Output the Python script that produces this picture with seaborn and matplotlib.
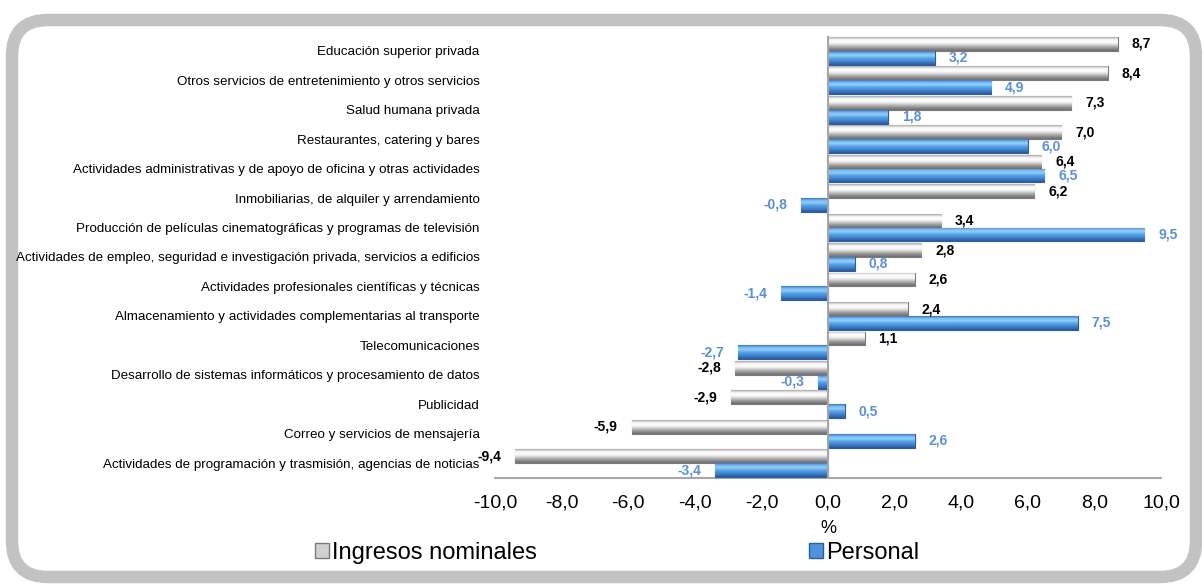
import matplotlib
matplotlib.use("Agg")
import matplotlib.pyplot as plt
import matplotlib.patches as mpatches
from matplotlib.colors import LinearSegmentedColormap
from matplotlib.ticker import FuncFormatter
import numpy as np
import pandas as pd
import seaborn as sns

SECTORES = [
    "Educación superior privada",
    "Otros servicios de entretenimiento y otros servicios",
    "Salud humana privada",
    "Restaurantes, catering y bares",
    "Actividades administrativas y de apoyo de oficina y otras actividades",
    "Inmobiliarias, de alquiler y arrendamiento",
    "Producción de películas cinematográficas y programas de televisión",
    "Actividades de empleo, seguridad e investigación privada, servicios a edificios",
    "Actividades profesionales científicas y técnicas",
    "Almacenamiento y actividades complementarias al transporte",
    "Telecomunicaciones",
    "Desarrollo de sistemas informáticos y procesamiento de datos",
    "Publicidad",
    "Correo y servicios de mensajería",
    "Actividades de programación y trasmisión, agencias de noticias",
]
INGRESOS = [8.7, 8.4, 7.3, 7.0, 6.4, 6.2, 3.4, 2.8, 2.6, 2.4, 1.1, -2.8, -2.9, -5.9, -9.4]
PERSONAL = [3.2, 4.9, 1.8, 6.0, 6.5, -0.8, 9.5, 0.8, -1.4, 7.5, -2.7, -0.3, 0.5, 2.6, -3.4]
SERIES = ["Ingresos nominales", "Personal"]
XTICKS = [-10, -8, -6, -4, -2, 0, 2, 4, 6, 8, 10]

GRAY = "#c4c4c4"
GRAY_EDGE = "#7a7a7a"
BLUE = "#4f93dc"
BLUE_EDGE = "#2b5c9c"
BLUE_TXT = "#5b8fd6"

# bevel-like vertical shading, top -> bottom
GRAY_SHADE = ["#a8a8a8", "#f4f4f4", "#ffffff", "#e6e6e6", "#b4b4b4", "#8c8c8c", "#6e6e6e"]
BLUE_SHADE = ["#3a74c0", "#7dbcf0", "#8fd0fa", "#5aa6ea", "#4a8fd8", "#3a74c0", "#2a5a9a"]


def coma(v):
    return f"{v:.1f}".replace(".", ",")


def shade_bars(ax, container, colors):
    cmap = LinearSegmentedColormap.from_list("bevel", colors)
    grad = np.linspace(0, 1, 64).reshape(-1, 1)
    for p in container:
        bb = p.get_bbox()
        x0, x1 = sorted([bb.x0, bb.x1])
        y0, y1 = sorted([bb.y0, bb.y1])
        # axis is inverted: y0 (smaller) is the top of the bar on screen
        im = ax.imshow(grad, cmap=cmap, aspect="auto", interpolation="bilinear",
                       extent=(x0, x1, y1, y0), origin="upper", zorder=3.5)
        im.set_clip_path(p)


def main():
    sns.set_theme(style="white")
    plt.rcParams["font.family"] = ["Liberation Sans", "DejaVu Sans"]
    plt.rcParams["text.color"] = "black"
    plt.rcParams["axes.labelcolor"] = "black"

    df = pd.DataFrame({
        "sector": SECTORES * 2,
        "valor": INGRESOS + PERSONAL,
        "serie": [SERIES[0]] * len(SECTORES) + [SERIES[1]] * len(SECTORES),
    })

    fig = plt.figure(figsize=(12.02, 5.86), dpi=100)
    fig.patch.set_facecolor("white")

    # rounded gray frame behind everything
    frame = mpatches.FancyBboxPatch(
        (12 / 1202, 9 / 586), 1184 / 1202, 557 / 586,
        boxstyle="round,pad=0,rounding_size=0.03",
        transform=fig.transFigure, facecolor="white",
        edgecolor="#c2c2c2", linewidth=9, zorder=-10, mutation_aspect=1202 / 586)
    fig.patches.append(frame)

    ax = fig.add_axes([495 / 1202, 1 - 478 / 586, (1161 - 495) / 1202, (478 - 36) / 586])
    ax.set_zorder(2)
    ax.set_facecolor("none")

    sns.barplot(data=df, y="sector", x="valor", hue="serie", orient="h",
                hue_order=SERIES, palette=[GRAY, BLUE], width=0.94,
                saturation=1, legend=False, ax=ax, zorder=3)
    ylim = ax.get_ylim()
    ax.set_xlim(-10, 10)
    ax.set_ylim(ylim)
    ax.set_autoscale_on(False)

    edges = [GRAY_EDGE, BLUE_EDGE]
    shades = [GRAY_SHADE, BLUE_SHADE]
    txtcol = ["black", BLUE_TXT]
    for i, cont in enumerate(ax.containers):
        for p in cont:
            p.set_edgecolor(edges[i])
            p.set_linewidth(0.8)
        shade_bars(ax, cont, shades[i])
    for i, cont in enumerate(ax.containers):
        vals = [p.get_width() for p in cont]
        texts = ax.bar_label(cont, labels=[coma(v) for v in vals], padding=10,
                             fontsize=10, fontweight="bold", color=txtcol[i])
        for t in texts:
            t.set_zorder(6)

    ax.set_xticks(XTICKS)
    ax.xaxis.set_major_formatter(FuncFormatter(lambda v, _: coma(v)))
    ax.tick_params(axis="x", labelsize=14, length=0, pad=12, colors="black")
    ax.tick_params(axis="y", labelsize=9.6, length=0, pad=11, colors="black")
    ax.set_xlabel("%", fontsize=13, labelpad=6, color="black")
    ax.set_ylabel("")

    for s in ["top", "right", "left"]:
        ax.spines[s].set_visible(False)
    ax.spines["bottom"].set_color("#a6a6a6")
    ax.spines["bottom"].set_linewidth(1.5)
    ax.axvline(0, color="#a6a6a6", linewidth=1.5, zorder=4)

    handles = [mpatches.Patch(facecolor="#d0d0d0", edgecolor=GRAY_EDGE, label=SERIES[0]),
               mpatches.Patch(facecolor=BLUE, edgecolor=BLUE_EDGE, label=SERIES[1])]
    leg = fig.legend(handles=handles, loc="center", bbox_to_anchor=(617 / 1202, 1 - 553 / 586),
                     ncol=2, frameon=False, fontsize=17, handlelength=0.6, handleheight=0.6,
                     handletextpad=0.15, columnspacing=11.5)
    for t in leg.get_texts():
        t.set_color("black")

    fig.savefig("out.png", dpi=100, facecolor=fig.get_facecolor())
    plt.close(fig)


if __name__ == "__main__":
    main()
